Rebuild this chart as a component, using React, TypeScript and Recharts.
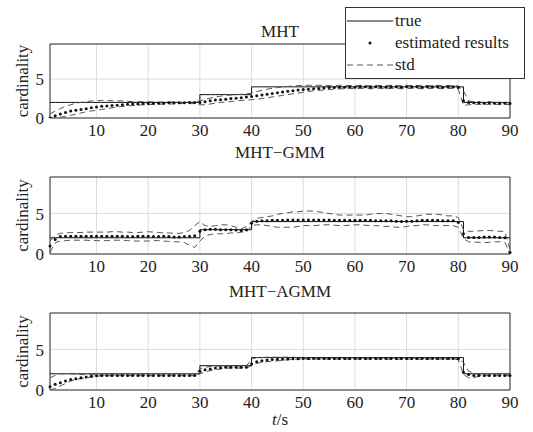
import { LineChart, Line, XAxis, YAxis, CartesianGrid, ReferenceArea } from 'recharts';

const FONT = "'Liberation Serif', 'DejaVu Serif', 'Times New Roman', serif";

const time = Array.from({ length: 90 }, (_, i) => i + 1);
const xTicks = [10, 20, 30, 40, 50, 60, 70, 80, 90];
const yTicks = [0, 5];

// true cardinality, t = 1..90
const truth = [
  2, 2, 2, 2, 2, 2, 2, 2, 2, 2,
  2, 2, 2, 2, 2, 2, 2, 2, 2, 2,
  2, 2, 2, 2, 2, 2, 2, 2, 2, 3,
  3, 3, 3, 3, 3, 3, 3, 3, 3, 4,
  4, 4, 4, 4, 4, 4, 4, 4, 4, 4,
  4, 4, 4, 4, 4, 4, 4, 4, 4, 4,
  4, 4, 4, 4, 4, 4, 4, 4, 4, 4,
  4, 4, 4, 4, 4, 4, 4, 4, 4, 4,
  2, 2, 2, 2, 2, 2, 2, 2, 2, 2,
];

// MHT
const est1 = [
  0.0, 0.3, 0.5, 0.7, 0.9, 1.0, 1.1, 1.2, 1.3, 1.4,
  1.5, 1.55, 1.6, 1.65, 1.7, 1.75, 1.8, 1.8, 1.85, 1.85,
  1.9, 1.9, 1.9, 1.95, 1.95, 1.95, 1.95, 2.0, 2.0, 2.0,
  2.1, 2.2, 2.3, 2.35, 2.4, 2.5, 2.55, 2.6, 2.7, 2.75,
  2.85, 2.95, 3.05, 3.15, 3.25, 3.35, 3.45, 3.5, 3.6, 3.65,
  3.7, 3.75, 3.8, 3.85, 3.9, 3.9, 3.95, 3.95, 4.0, 3.95,
  4.0, 4.0, 3.95, 4.0, 4.0, 3.95, 4.0, 4.0, 3.95, 4.0,
  4.0, 4.0, 3.95, 4.0, 4.0, 4.0, 3.95, 4.0, 4.0, 3.9,
  2.2, 2.0, 1.95, 1.95, 1.9, 1.95, 1.9, 1.9, 1.9, 1.85,
];
const up1 = [
  0.5, 0.9, 1.2, 1.5, 1.7, 1.9, 2.0, 2.1, 2.2, 2.2,
  2.25, 2.25, 2.2, 2.2, 2.2, 2.15, 2.1, 2.1, 2.1, 2.1,
  2.05, 2.05, 2.05, 2.05, 2.05, 2.0, 2.0, 2.0, 2.05, 2.2,
  2.4, 2.55, 2.7, 2.8, 2.9, 2.95, 3.0, 3.05, 3.1, 3.2,
  3.4, 3.55, 3.7, 3.8, 3.9, 4.0, 4.05, 4.1, 4.15, 4.2,
  4.2, 4.2, 4.2, 4.2, 4.15, 4.15, 4.2, 4.2, 4.15, 4.15,
  4.2, 4.15, 4.15, 4.2, 4.15, 4.15, 4.2, 4.15, 4.15, 4.2,
  4.15, 4.15, 4.2, 4.15, 4.15, 4.2, 4.15, 4.15, 4.2, 4.1,
  3.5, 2.2, 2.05, 2.05, 2.0, 2.05, 2.0, 2.0, 2.0, 1.95,
];
const lo1 = [
  0.0, 0.0, 0.1, 0.2, 0.35, 0.5, 0.65, 0.8, 0.9, 1.0,
  1.1, 1.2, 1.3, 1.4, 1.5, 1.55, 1.6, 1.65, 1.7, 1.7,
  1.75, 1.75, 1.8, 1.8, 1.8, 1.85, 1.85, 1.85, 1.85, 1.7,
  1.7, 1.8, 1.9, 2.0, 2.05, 2.1, 2.2, 2.25, 2.3, 2.35,
  2.4, 2.5, 2.6, 2.7, 2.8, 2.9, 3.0, 3.1, 3.2, 3.3,
  3.4, 3.5, 3.55, 3.6, 3.65, 3.7, 3.75, 3.75, 3.8, 3.75,
  3.8, 3.8, 3.75, 3.8, 3.8, 3.75, 3.8, 3.8, 3.75, 3.8,
  3.8, 3.8, 3.75, 3.8, 3.8, 3.8, 3.75, 3.8, 3.8, 3.7,
  1.6, 1.7, 1.75, 1.75, 1.75, 1.75, 1.75, 1.75, 1.75, 1.7,
];

// MHT-GMM
const est2 = [
  1.0, 1.8, 2.15, 2.2, 2.2, 2.2, 2.2, 2.2, 2.2, 2.2,
  2.2, 2.2, 2.2, 2.2, 2.2, 2.15, 2.15, 2.2, 2.2, 2.2,
  2.15, 2.15, 2.2, 2.15, 2.1, 2.1, 2.15, 2.2, 2.25, 2.8,
  3.0, 3.05, 3.05, 3.0, 3.0, 3.0, 2.95, 2.9, 3.0, 3.8,
  4.05, 4.1, 4.1, 4.15, 4.15, 4.15, 4.2, 4.2, 4.2, 4.2,
  4.2, 4.2, 4.2, 4.2, 4.2, 4.15, 4.15, 4.15, 4.15, 4.15,
  4.15, 4.15, 4.15, 4.1, 4.1, 4.1, 4.1, 4.05, 4.0, 4.05,
  4.05, 4.1, 4.15, 4.15, 4.15, 4.15, 4.1, 4.1, 4.1, 3.9,
  2.5, 2.05, 2.05, 2.05, 2.1, 2.1, 2.1, 2.05, 2.0, 0.2,
];
const up2 = [
  1.6, 2.3, 2.55, 2.6, 2.65, 2.65, 2.65, 2.7, 2.7, 2.7,
  2.7, 2.7, 2.75, 2.75, 2.7, 2.7, 2.65, 2.65, 2.7, 2.75,
  2.7, 2.65, 2.6, 2.6, 2.55, 2.55, 2.65, 2.9, 3.5, 4.0,
  3.5, 3.4, 3.5, 3.6, 3.6, 3.5, 3.3, 3.1, 3.4, 4.0,
  4.4, 4.5, 4.6, 4.7, 4.9, 5.0, 5.1, 5.2, 5.2, 5.3,
  5.3, 5.3, 5.2, 5.1, 5.0, 4.9, 4.8, 4.8, 4.8, 4.8,
  4.8, 4.8, 4.9, 5.0, 5.0, 5.0, 4.9, 4.8, 4.7, 4.6,
  4.6, 4.7, 4.8, 4.9, 4.9, 4.9, 4.8, 4.7, 4.7, 4.5,
  3.0, 2.8, 2.8, 2.85, 2.9, 2.9, 2.85, 2.8, 2.8, 0.5,
];
const lo2 = [
  0.2, 1.4, 1.6, 1.65, 1.7, 1.7, 1.7, 1.7, 1.65, 1.65,
  1.65, 1.65, 1.7, 1.7, 1.7, 1.65, 1.6, 1.6, 1.6, 1.6,
  1.65, 1.65, 1.6, 1.55, 1.5, 1.5, 1.4, 1.1, 0.8, 1.6,
  2.2, 2.4, 2.5, 2.5, 2.5, 2.6, 2.6, 2.7, 2.7, 3.5,
  3.6, 3.6, 3.5, 3.4, 3.3, 3.3, 3.3, 3.3, 3.4, 3.5,
  3.5, 3.5, 3.55, 3.6, 3.6, 3.55, 3.5, 3.5, 3.55, 3.6,
  3.6, 3.55, 3.5, 3.5, 3.45, 3.4, 3.4, 3.3, 3.3, 3.4,
  3.5, 3.5, 3.6, 3.6, 3.5, 3.5, 3.5, 3.5, 3.5, 3.3,
  1.9, 1.5, 1.45, 1.45, 1.4, 1.45, 1.5, 1.5, 1.45, 0.0,
];

// MHT-AGMM
const est3 = [
  0.4, 0.7, 0.9, 1.1, 1.3, 1.4, 1.5, 1.6, 1.7, 1.75,
  1.8, 1.8, 1.8, 1.8, 1.8, 1.8, 1.8, 1.8, 1.8, 1.8,
  1.8, 1.8, 1.8, 1.8, 1.8, 1.8, 1.8, 1.8, 1.8, 2.3,
  2.5, 2.6, 2.7, 2.75, 2.8, 2.8, 2.8, 2.8, 2.8, 3.2,
  3.5, 3.6, 3.7, 3.75, 3.8, 3.8, 3.85, 3.85, 3.85, 3.9,
  3.9, 3.9, 3.9, 3.9, 3.9, 3.9, 3.9, 3.9, 3.9, 3.9,
  3.9, 3.9, 3.9, 3.9, 3.9, 3.9, 3.9, 3.9, 3.9, 3.9,
  3.9, 3.9, 3.9, 3.9, 3.9, 3.9, 3.9, 3.9, 3.9, 3.85,
  2.2, 1.9, 1.8, 1.8, 1.8, 1.8, 1.8, 1.8, 1.8, 1.8,
];
const up3 = [
  1.5, 1.8, 2.0, 2.0, 2.0, 1.95, 1.9, 1.9, 1.9, 1.85,
  1.85, 1.85, 1.85, 1.85, 1.85, 1.85, 1.85, 1.85, 1.85, 1.85,
  1.85, 1.85, 1.85, 1.85, 1.85, 1.85, 1.85, 1.85, 1.85, 2.6,
  2.8, 2.9, 2.95, 2.95, 2.95, 2.95, 2.95, 2.95, 2.95, 3.8,
  4.0, 4.0, 4.05, 4.05, 4.05, 4.05, 4.05, 4.05, 4.0, 3.95,
  3.95, 3.95, 3.95, 3.95, 3.95, 3.95, 3.95, 3.95, 3.95, 3.95,
  3.95, 3.95, 3.95, 3.95, 3.95, 3.95, 3.95, 3.95, 3.95, 3.95,
  3.95, 3.95, 3.95, 3.95, 3.95, 3.95, 3.95, 3.95, 3.95, 3.9,
  3.4, 2.3, 2.1, 1.85, 1.85, 1.85, 1.85, 1.85, 1.85, 1.85,
];
const lo3 = [
  0.0, 0.2, 0.5, 0.8, 1.1, 1.3, 1.4, 1.5, 1.6, 1.7,
  1.75, 1.75, 1.75, 1.75, 1.75, 1.75, 1.75, 1.75, 1.75, 1.75,
  1.75, 1.75, 1.75, 1.75, 1.75, 1.75, 1.75, 1.75, 1.75, 2.0,
  2.2, 2.4, 2.5, 2.6, 2.7, 2.7, 2.7, 2.7, 2.7, 3.0,
  3.3, 3.4, 3.5, 3.55, 3.6, 3.65, 3.7, 3.8, 3.8, 3.8,
  3.8, 3.8, 3.8, 3.8, 3.8, 3.8, 3.8, 3.8, 3.8, 3.8,
  3.8, 3.8, 3.8, 3.8, 3.8, 3.8, 3.8, 3.8, 3.8, 3.8,
  3.8, 3.8, 3.8, 3.8, 3.8, 3.8, 3.8, 3.8, 3.8, 3.75,
  1.9, 1.5, 1.5, 1.75, 1.75, 1.75, 1.75, 1.75, 1.75, 1.75,
];

const tickStyle = { fontSize: 17, fill: '#222', fontFamily: FONT };

function YLabel(props: any) {
  const { viewBox } = props;
  const cx = 22;
  const cy = viewBox.y + viewBox.height / 2;
  return (
    <text x={cx} y={cy} transform={`rotate(-90, ${cx}, ${cy})`} textAnchor="middle" dominantBaseline="central"
      style={{ fontSize: 17, fontFamily: FONT }} fill="#222">cardinality</text>
  );
}

function XLabel(props: any) {
  const { viewBox } = props;
  return (
    <text x={viewBox.x + viewBox.width / 2} y={viewBox.y + viewBox.height + 15} textAnchor="middle"
      style={{ fontSize: 17, fontFamily: FONT }} fill="#222">
      <tspan fontStyle="italic">t</tspan>/s
    </text>
  );
}

function Panel({ title, est, up, lo, top, height, marginTop, marginBottom, titleTop, xLabel }: any) {
  const rows = time.map((t, i) => ({ t, truth: truth[i], est: est[i], up: up[i], lo: lo[i] }));
  return (
    <>
      <div style={{ position: 'absolute', left: 50, width: 460, top: titleTop, textAlign: 'center', fontSize: 17, lineHeight: '20px', fontFamily: FONT, color: '#222' }}>
        {title}
      </div>
      <div style={{ position: 'absolute', left: 0, top, width: 533, height }}>
        <LineChart width={533} height={height} data={rows} margin={{ top: marginTop, right: 23, bottom: marginBottom, left: 30 }}
          style={{ fontFamily: FONT }}>
          <CartesianGrid stroke="#dcdcdc" />
          <XAxis dataKey="t" type="number" domain={[1, 90]} ticks={xTicks} height={20} tickSize={0} tickMargin={6}
            axisLine={false} tick={tickStyle} interval={0}
            label={xLabel ? { content: (p: any) => <XLabel {...p} /> } : undefined} />
          <YAxis type="number" domain={[0, 9.5]} ticks={yTicks} width={20} tickSize={0} tickMargin={6}
            axisLine={false} tick={tickStyle} allowDataOverflow
            label={{ content: (p: any) => <YLabel {...p} /> }} />
          <ReferenceArea x1={1} x2={90} y1={0} y2={9.5} fill="none" stroke="#333" strokeWidth={1} />
          <Line dataKey="truth" type="stepAfter" stroke="#111" strokeWidth={1} dot={false} isAnimationActive={false} />
          <Line dataKey="up" type="linear" stroke="#555" strokeWidth={1} strokeDasharray="6 4" dot={false} isAnimationActive={false} />
          <Line dataKey="lo" type="linear" stroke="#555" strokeWidth={1} strokeDasharray="6 4" dot={false} isAnimationActive={false} />
          <Line dataKey="est" type="linear" stroke="none" dot={{ r: 1.5, fill: '#111', stroke: 'none' }} isAnimationActive={false} />
        </LineChart>
      </div>
    </>
  );
}

function LegendBox() {
  const row = { position: 'absolute' as const, left: 0, height: 22, width: 178 };
  const text = { position: 'absolute' as const, left: 49, fontSize: 17, fontFamily: FONT, color: '#222', lineHeight: '22px', whiteSpace: 'nowrap' as const };
  return (
    <div style={{ position: 'absolute', left: 345, top: 7, width: 178, height: 70, border: '1px solid #333', background: '#fff' }}>
      <div style={{ ...row, top: 2 }}>
        <svg width={48} height={22} style={{ position: 'absolute', left: 0 }}><line x1={1} x2={47} y1={11} y2={11} stroke="#111" /></svg>
        <span style={text}>true</span>
      </div>
      <div style={{ ...row, top: 24 }}>
        <svg width={48} height={22} style={{ position: 'absolute', left: 0 }}><circle cx={24} cy={11} r={1.5} fill="#111" /></svg>
        <span style={text}>estimated results</span>
      </div>
      <div style={{ ...row, top: 46 }}>
        <svg width={48} height={22} style={{ position: 'absolute', left: 0 }}><line x1={1} x2={47} y1={11} y2={11} stroke="#555" strokeDasharray="6 4" /></svg>
        <span style={text}>std</span>
      </div>
    </div>
  );
}

export default function App() {
  return (
    <div style={{ position: 'absolute', left: 0, top: 0, width: 533, height: 432, background: '#fff', overflow: 'hidden', fontFamily: FONT }}>
      <Panel title="MHT" est={est1} up={up1} lo={lo1} top={0} height={140} marginTop={44} marginBottom={2} titleTop={22} />
      <Panel title="MHT−GMM" est={est2} up={up2} lo={lo2} top={136} height={140} marginTop={41} marginBottom={2} titleTop={143} />
      <Panel title="MHT−AGMM" est={est3} up={up3} lo={lo3} top={272} height={160} marginTop={41} marginBottom={22} titleTop={282} xLabel />
      <LegendBox />
    </div>
  );
}
